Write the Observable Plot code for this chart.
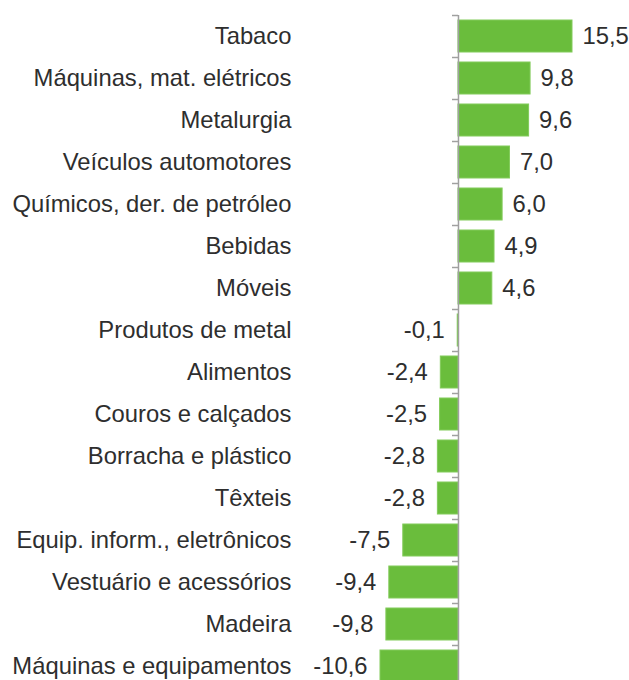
<!DOCTYPE html>
<html>
<head>
<meta charset="utf-8">
<script src="https://cdn.jsdelivr.net/npm/d3@7"></script>
<script src="https://cdn.jsdelivr.net/npm/@observablehq/plot@0.6"></script>
<style>
  html, body { margin: 0; padding: 0; background: #fff; }
  #chart svg { display: block; }
</style>
</head>
<body>
<div id="chart"></div>
<script>
const categories = [
  "Tabaco",
  "Máquinas, mat. elétricos",
  "Metalurgia",
  "Veículos automotores",
  "Químicos, der. de petróleo",
  "Bebidas",
  "Móveis",
  "Produtos de metal",
  "Alimentos",
  "Couros e calçados",
  "Borracha e plástico",
  "Têxteis",
  "Equip. inform., eletrônicos",
  "Vestuário e acessórios",
  "Madeira",
  "Máquinas e equipamentos"
];
const values = [15.5, 9.8, 9.6, 7.0, 6.0, 4.9, 4.6, -0.1, -2.4, -2.5, -2.8, -2.8, -7.5, -9.4, -9.8, -10.6];

const data = categories.map((name, i) => ({name, value: values[i]}));
const fmt = v => v.toFixed(1).replace(".", ",");
const font = "Liberation Sans, Arial, sans-serif";
const fs = 23.8;
const textColor = "#2e2e2e";

const chart = Plot.plot({
  width: 629,
  height: 680,
  marginLeft: 380,
  marginRight: 57,
  marginTop: 15,
  marginBottom: 0,
  style: {fontFamily: font, fontSize: fs + "px", color: textColor, background: "#fff"},
  x: {domain: [d3.min(values), d3.max(values)], axis: null},
  y: {domain: categories, range: [15, 687], padding: 0, axis: null},
  marks: [
    Plot.barX(data, {x: "value", y: "name", fill: "#6abd3c", stroke: "#82cb5a", strokeWidth: 1, insetTop: 5, insetBottom: 5}),
    Plot.ruleX([0], {stroke: "#a0a0a0", strokeWidth: 1.5}),
    Plot.ruleY(categories, {y: d => d, x1: 0, x2: 0, insetLeft: -6, dy: -21, stroke: "#a0a0a0", strokeWidth: 1.5}),
    Plot.ruleY(categories.slice(-1), {y: d => d, x1: 0, x2: 0, insetLeft: -6, dy: 21, stroke: "#a0a0a0", strokeWidth: 1.5}),
    Plot.axisY({tickSize: 0, tickPadding: 89, label: null, fontSize: fs, fontFamily: font, fill: textColor}),
    Plot.text(data.filter(d => d.value >= 0), {x: "value", y: "name", text: d => fmt(d.value), textAnchor: "start", dx: 10, fontSize: fs, fontFamily: font, fill: textColor}),
    Plot.text(data.filter(d => d.value < 0), {x: "value", y: "name", text: d => fmt(d.value), textAnchor: "end", dx: -13, fontSize: fs, fontFamily: font, fill: textColor})
  ]
});
document.getElementById("chart").appendChild(chart);
</script>
</body>
</html>
